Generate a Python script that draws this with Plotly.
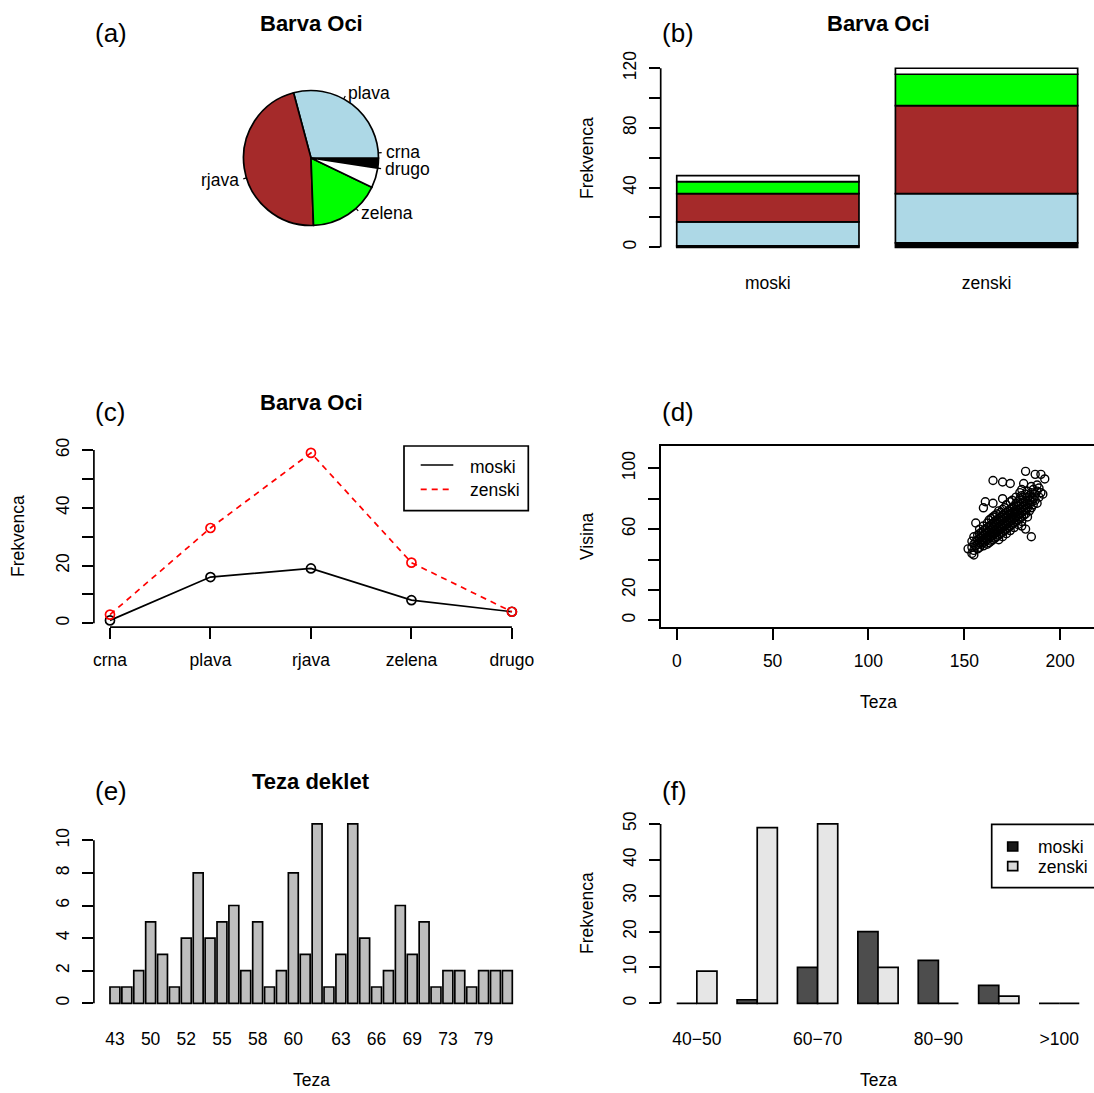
import math
import numpy as np
import plotly.graph_objects as go

W, H = 1094, 1093
FONT = "Liberation Sans, Arial, Helvetica, sans-serif"
FS = 17.5

# ---------------- data ----------------
eye_colors = ["crna", "plava", "rjava", "zelena", "drugo"]
eye_fill = ["#000000", "#ADD8E6", "#A52A2A", "#00FF00", "#FFFFFF"]
spol = ["moski", "zenski"]
moski_eye = [1, 16, 19, 8, 4]
zenski_eye = [3, 33, 59, 21, 4]

weight_cats = ["43", "45", "48", "50", "50.5", "51", "52", "53", "54", "55", "56", "57",
               "58", "58.5", "59", "60", "61", "62", "62.5", "63", "64", "65", "66", "67",
               "68", "69", "70", "72", "73", "75", "77", "79", "80", "85"]
weight_counts = [1, 1, 2, 5, 3, 1, 4, 8, 4, 5, 6, 2, 5, 1, 2, 8, 3, 11, 1, 3, 11, 4,
                 1, 2, 6, 3, 5, 1, 2, 2, 1, 2, 2, 2]
weight_ticks_shown = ["43", "50", "52", "55", "58", "60", "63", "66", "69", "73", "79"]

teza_bins = ["40\u221250", "50\u221260", "60\u221270", "70\u221280", "80\u221290", "90\u2212100", ">100"]
moski_bins = [0, 1, 10, 20, 12, 5, 0]
zenski_bins = [9, 49, 50, 10, 0, 2, 0]
bins_shown = ["40\u221250", "60\u221270", "80\u221290", ">100"]

visina = [152,
          154, 154, 154,
          155, 155, 155, 155,
          156, 156, 156,
          157, 157, 157, 157,
          158, 158, 158, 158, 158,
          159, 159, 159, 159,
          160, 160, 160, 160, 160, 160, 160,
          161, 161, 161, 161, 161,
          162, 162, 162, 162, 162, 162,
          163, 163, 163, 163, 163, 163,
          164, 164, 164, 164, 164, 164,
          165, 165, 165, 165, 165, 165, 165, 165,
          166, 166, 166, 166, 166, 166,
          167, 167, 167, 167, 167, 167,
          168, 168, 168, 168, 168, 168, 168,
          169, 169, 169, 169, 169, 169,
          170, 170, 170, 170, 170, 170, 170, 170, 170,
          171, 171, 171, 171, 171, 171,
          172, 172, 172, 172, 172, 172, 172,
          173, 173, 173, 173, 173,
          174, 174, 174, 174, 174, 174, 174, 174,
          175, 175, 175, 175, 175, 175,
          176, 176, 176, 176, 176, 176,
          177, 177, 177, 177, 177, 177,
          178, 178, 178, 178, 178, 178,
          179, 179, 179, 179, 179, 179,
          180, 180, 180, 180, 180, 180, 180, 180,
          181, 181, 181, 181, 181,
          182, 182, 182, 182, 182, 182, 182,
          183, 183, 183, 183, 183,
          184, 184, 184, 184,
          185, 185, 185, 185, 185,
          186, 186, 186,
          187, 187, 187,
          188, 188, 188,
          189, 189,
          190, 190,
          191,
          192]
teza = [47,
        44, 48, 52,
        43, 46, 50, 55,
        49, 52, 64,
        47, 50, 53, 56,
        48, 51, 54, 57, 60,
        50, 52, 55, 58,
        49, 51, 53, 56, 59, 62, 74,
        52, 54, 57, 60, 78,
        50, 53, 55, 58, 61, 64,
        51, 54, 56, 59, 62, 66,
        52, 55, 57, 60, 63, 67,
        53, 56, 58, 61, 64, 68, 77, 92,
        54, 57, 59, 62, 65, 69,
        55, 58, 60, 63, 66, 70,
        53, 56, 59, 61, 64, 67, 72,
        57, 60, 62, 65, 68, 71,
        55, 58, 61, 63, 66, 69, 73, 80, 91,
        59, 62, 64, 67, 70, 74,
        57, 60, 63, 65, 68, 71, 76,
        61, 64, 66, 69, 72,
        59, 62, 65, 67, 70, 73, 78, 90,
        63, 66, 68, 71, 74, 79,
        61, 64, 67, 70, 72, 75,
        65, 68, 71, 73, 77, 81,
        63, 66, 69, 72, 75, 78,
        67, 70, 73, 76, 80, 84,
        62, 65, 68, 71, 74, 77, 82, 86,
        69, 72, 75, 78, 90,
        60, 70, 73, 76, 79, 83, 98,
        68, 74, 77, 81, 85,
        72, 76, 79, 82,
        55, 74, 78, 84, 88,
        76, 80, 86,
        79, 83, 96,
        77, 85, 89,
        81, 87,
        84, 96,
        83,
        93]

# ---------------- helpers ----------------
def PX(px):
    return px / W


def PY(py):
    return 1 - py / H


def xd(a, b):
    return [max(0.0, a / W), min(1.0, b / W)]


def yd(top, bot):
    return [max(0.0, 1 - bot / H), min(1.0, 1 - top / H)]


annotations = []
shapes = []


def text(t, px, py, size=FS, bold=False, xanchor="center", yanchor="middle", angle=0):
    annotations.append(dict(
        text=("<b>%s</b>" % t) if bold else t, x=PX(px), y=PY(py), xref="paper", yref="paper",
        xanchor=xanchor, yanchor=yanchor, showarrow=False, textangle=angle, borderpad=0,
        font=dict(family=FONT, size=size, color="black")))


LW = 1.7
fig = go.Figure()

# ---------------- (a) pie ----------------
eye_total = [m + z for m, z in zip(moski_eye, zenski_eye)]
cx, cy, R = 311, 158, 67.5
fig.add_trace(go.Pie(labels=eye_colors, values=eye_total, sort=False, direction="counterclockwise",
                     rotation=90, textinfo="none", showlegend=False, hoverinfo="label+value",
                     automargin=False,
                     marker=dict(colors=eye_fill, line=dict(color="black", width=LW)),
                     domain=dict(x=xd(cx - R, cx + R), y=yd(cy - R, cy + R))))
tot = float(sum(eye_total))
cum = 0.0
for lab, v in zip(eye_colors, eye_total):
    mid = 2 * math.pi * (cum + v / 2.0) / tot
    cum += v
    c, s = math.cos(mid), math.sin(mid)
    shapes.append(dict(type="line", xref="paper", yref="paper",
                       x0=PX(cx + R * c), y0=PY(cy - R * s),
                       x1=PX(cx + 1.05 * R * c), y1=PY(cy - 1.05 * R * s),
                       line=dict(color="black", width=1.2)))
    text(lab, cx + 1.1 * R * c, cy - 1.1 * R * s, xanchor=("right" if c < 0 else "left"))
text("(a)", 94, 33, size=26, xanchor="left")
text("Barva Oci", 311, 24, size=22, bold=True)

# ---------------- (b) stacked bars ----------------
cum_m = np.concatenate([[0], np.cumsum(moski_eye)[:-1]])
cum_z = np.concatenate([[0], np.cumsum(zenski_eye)[:-1]])
for i, lab in enumerate(eye_colors):
    fig.add_trace(go.Bar(x=spol, y=[moski_eye[i], zenski_eye[i]], base=[cum_m[i], cum_z[i]],
                         width=1 / 1.2, offset=-0.5 / 1.2, name=lab, showlegend=False,
                         marker=dict(color=eye_fill[i], line=dict(color="black", width=LW)),
                         xaxis="x2", yaxis="y2"))
text("(b)", 661, 33, size=26, xanchor="left")
text("Barva Oci", 878, 24, size=22, bold=True)
text("Frekvenca", 587, 158, angle=-90)

# ---------------- (c) lines ----------------
fig.add_trace(go.Scatter(x=eye_colors, y=moski_eye, mode="lines+markers", name="moski",
                         showlegend=False, line=dict(color="black", width=LW),
                         marker=dict(symbol="circle-open", size=9, color="black", line=dict(width=LW)),
                         xaxis="x3", yaxis="y3"))
fig.add_trace(go.Scatter(x=eye_colors, y=zenski_eye, mode="lines+markers", name="zenski",
                         showlegend=False, line=dict(color="red", width=LW, dash="6px,5px"),
                         marker=dict(symbol="circle-open", size=9, color="red", line=dict(width=LW)),
                         xaxis="x3", yaxis="y3"))
text("(c)", 94, 412, size=26, xanchor="left")
text("Barva Oci", 311, 402, size=22, bold=True)
text("Frekvenca", 18, 536, angle=-90)
# legend (c)
shapes.append(dict(type="rect", xref="paper", yref="paper", x0=PX(404), x1=PX(528.3),
                   y0=PY(510.7), y1=PY(446), line=dict(color="black", width=LW)))
shapes.append(dict(type="line", xref="paper", yref="paper", x0=PX(420.7), x1=PX(453.3),
                   y0=PY(465), y1=PY(465), line=dict(color="black", width=LW)))
shapes.append(dict(type="line", xref="paper", yref="paper", x0=PX(420.7), x1=PX(453.3),
                   y0=PY(489.3), y1=PY(489.3), line=dict(color="red", width=LW, dash="6px,5px")))
text("moski", 469.3, 467, xanchor="left")
text("zenski", 469.3, 490, xanchor="left")

# ---------------- (d) scatter ----------------
fig.add_trace(go.Scatter(x=visina, y=teza, mode="markers", showlegend=False,
                         marker=dict(symbol="circle-open", size=8, color="black", line=dict(width=1.4)),
                         xaxis="x4", yaxis="y4"))
text("(d)", 661, 412, size=26, xanchor="left")
text("Visina", 587, 536, angle=-90)
text("Teza", 878, 702)

# ---------------- (e) bar chart of weights ----------------
fig.add_trace(go.Bar(x=weight_cats, y=weight_counts, width=1 / 1.2, showlegend=False,
                     marker=dict(color="#BEBEBE", line=dict(color="black", width=LW)),
                     xaxis="x5", yaxis="y5"))
text("(e)", 94, 791, size=26, xanchor="left")
text("Teza deklet", 311, 781, size=22, bold=True)
text("Teza", 311, 1080)

# ---------------- (f) grouped bars ----------------
fig.add_trace(go.Bar(x=teza_bins, y=moski_bins, name="moski", showlegend=False,
                     marker=dict(color="#4D4D4D", line=dict(color="black", width=LW)),
                     xaxis="x6", yaxis="y6"))
fig.add_trace(go.Bar(x=teza_bins, y=zenski_bins, name="zenski", showlegend=False,
                     marker=dict(color="#E6E6E6", line=dict(color="black", width=LW)),
                     xaxis="x6", yaxis="y6"))
text("(f)", 661, 791, size=26, xanchor="left")
text("Frekvenca", 587, 913, angle=-90)
text("Teza", 878, 1080)
# legend (f)
shapes.append(dict(type="rect", xref="paper", yref="paper", x0=PX(991.7), x1=PX(1100),
                   y0=PY(887.7), y1=PY(824.3), line=dict(color="black", width=LW)))
shapes.append(dict(type="rect", xref="paper", yref="paper", x0=PX(1007.7), x1=PX(1017.7),
                   y0=PY(851), y1=PY(842), fillcolor="#1A1A1A", line=dict(color="black", width=LW)))
shapes.append(dict(type="rect", xref="paper", yref="paper", x0=PX(1007.7), x1=PX(1017.7),
                   y0=PY(870.7), y1=PY(861.7), fillcolor="#D9D9D9", line=dict(color="black", width=LW)))
text("moski", 1036.7, 847, xanchor="left")
text("zenski", 1036.7, 867, xanchor="left")

# ---------------- axes ----------------
base_ax = dict(showgrid=False, zeroline=False, showline=False, ticks="outside", ticklen=11,
               tickwidth=LW, tickcolor="black", fixedrange=True, automargin=False,
               tickfont=dict(family=FONT, size=FS, color="black"))


def ax(**kw):
    d = dict(base_ax)
    d.update(kw)
    return d


def yticks(lo, hi, step, every):
    vals = list(range(lo, hi + 1, step))
    txt = [str(v) if (i % every == 0) else "" for i, v in enumerate(vals)]
    return vals, txt


yv2, yt2 = yticks(0, 120, 20, 2)
yv3, yt3 = yticks(0, 60, 10, 2)
yv5, yt5 = yticks(0, 10, 2, 1)
yv6, yt6 = yticks(0, 50, 10, 1)
yv4 = [0, 20, 40, 60, 80, 100]
yt4 = ["0", "20", "", "60", "", "100"]

YSTAND = 6
fig.update_layout(
    template="none",
    width=W, height=H, margin=dict(l=0, r=0, t=0, b=0, pad=0, autoexpand=False), autosize=False,
    showlegend=False,
    paper_bgcolor="white", plot_bgcolor="rgba(0,0,0,0)",
    barmode="group", bargap=1 / 3, bargroupgap=0,
    font=dict(family=FONT, size=FS, color="black"),
    xaxis2=ax(domain=xd(660.7, 1093.7), anchor="y2", type="category", range=[-0.49, 1.49],
              ticks="", ticklabelstandoff=16),
    yaxis2=ax(domain=yd(61.1, 254.5), anchor="x2", range=[-4.8, 124.8], tickvals=yv2, ticktext=yt2,
              tickangle=-90, ticklabelstandoff=YSTAND),
    xaxis3=ax(domain=xd(93.9, 528), anchor="y3", type="category", range=[-0.16, 4.16],
              ticklabelstandoff=6),
    yaxis3=ax(domain=yd(446.2, 627.1), anchor="x3", range=[-1.32, 61.32], tickvals=yv3, ticktext=yt3,
              tickangle=-90, ticklabelstandoff=YSTAND),
    xaxis4=ax(domain=xd(660.7, 1094), anchor="y4", range=[-8.4, 217.7], tickvals=[0, 50, 100, 150, 200],
              showline=True, mirror=True, linecolor="black", linewidth=LW, ticklabelstandoff=6),
    yaxis4=ax(domain=yd(446.4, 627), anchor="x4", range=[-4.4, 114.4], tickvals=yv4, ticktext=yt4,
              tickangle=-90, showline=True, mirror=True, linecolor="black", linewidth=LW,
              ticklabelstandoff=YSTAND),
    xaxis5=ax(domain=xd(93.9, 528.4), anchor="y5", type="category", range=[-1.77, 34.77],
              tickvals=weight_ticks_shown, ticks="", ticklabelstandoff=16),
    yaxis5=ax(domain=yd(816.8, 1010.5), anchor="x5", range=[-0.44, 11.44], tickvals=yv5, ticktext=yt5,
              tickangle=-90, ticklabelstandoff=YSTAND),
    xaxis6=ax(domain=xd(660.6, 1094), anchor="y6", type="category", range=[-0.6, 6.577],
              tickvals=bins_shown, ticks="", ticklabelstandoff=16),
    yaxis6=ax(domain=yd(816.8, 1010.5), anchor="x6", range=[-2, 52], tickvals=yv6, ticktext=yt6,
              tickangle=-90, ticklabelstandoff=YSTAND),
    xaxis=dict(visible=False, automargin=False), yaxis=dict(visible=False, automargin=False),
)

# R-style axis lines spanning first to last tick
for a, lo, hi in [("2", 0, 120), ("3", 0, 60), ("5", 0, 10), ("6", 0, 50)]:
    shapes.append(dict(type="line", xref="x%s domain" % a, yref="y%s" % a, x0=0, x1=0, y0=lo, y1=hi,
                       line=dict(color="black", width=LW)))
shapes.append(dict(type="line", xref="x3", yref="y3 domain", x0=0, x1=len(eye_colors) - 1, y0=0, y1=0,
                   line=dict(color="black", width=LW)))

fig.update_layout(annotations=annotations, shapes=shapes)
fig.write_html(
    "out.html",
    config={"displayModeBar": False, "responsive": False},
    post_script=(
        "document.documentElement.style.margin='0';document.documentElement.style.padding='0';"
        "document.documentElement.style.overflow='hidden';"
        "document.body.style.margin='0';document.body.style.padding='0';document.body.style.overflow='hidden';"
        "var gd=document.getElementById('{plot_id}');"
        "gd.style.position='fixed';gd.style.left='0px';gd.style.top='0px';"
    ),
)
